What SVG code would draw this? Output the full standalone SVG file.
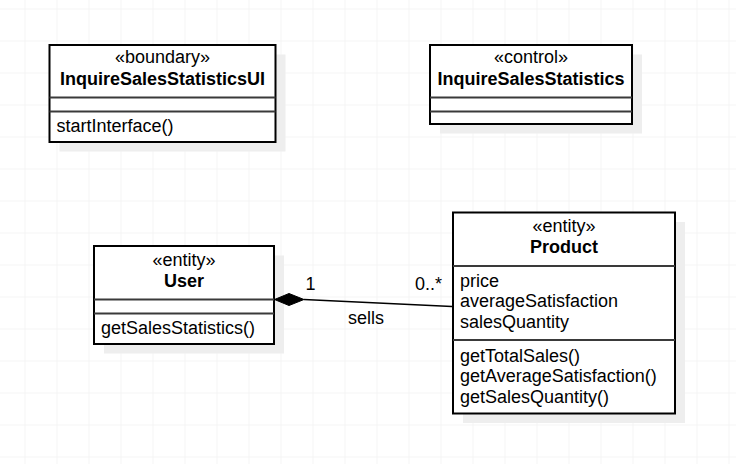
<svg xmlns="http://www.w3.org/2000/svg" width="736" height="464" viewBox="0 0 736 464">
  <defs>
    <pattern id="grid" x="24.5" y="8.5" width="32" height="32" patternUnits="userSpaceOnUse">
      <path d="M0 0 H32 M0 0 V32" fill="none" stroke="#ebebeb" stroke-width="1"/>
    </pattern>
  </defs>
  <style>
    text { font-family: "Liberation Sans", Arial, sans-serif; font-size: 18px; fill: #000; }
    .c { text-anchor: middle; }
    .b { font-weight: bold; }
    .shadow { fill: #eeeeee; stroke: none; }
    .box { fill: #ffffff; stroke: #000; stroke-width: 2; }
    .sep { stroke: #3a3a3a; stroke-width: 2; fill: none; }
    .line { stroke: #000; stroke-width: 1.5; fill: none; }
  </style>
  <rect x="0" y="0" width="736" height="464" fill="#ffffff"/>
  <rect x="0" y="0" width="736" height="464" fill="url(#grid)"/>

  <g id="InquireSalesStatisticsUI">
    <rect class="shadow" x="59.5" y="54.5" width="226" height="97"/>
    <rect class="box" x="49.5" y="45" width="226" height="97"/>
    <line class="sep" x1="49.5" y1="97.5" x2="275.5" y2="97.5"/>
    <line class="sep" x1="49.5" y1="111.5" x2="275.5" y2="111.5"/>
    <text class="c" x="162.5" y="63">«boundary»</text>
    <text class="c b" x="162.5" y="85">InquireSalesStatisticsUI</text>
    <text x="56.5" y="132">startInterface()</text>
  </g>

  <g id="InquireSalesStatistics">
    <rect class="shadow" x="440" y="54.5" width="202" height="79"/>
    <rect class="box" x="430" y="45" width="202" height="79"/>
    <line class="sep" x1="430" y1="97.5" x2="632" y2="97.5"/>
    <line class="sep" x1="430" y1="111.5" x2="632" y2="111.5"/>
    <text class="c" x="531" y="63">«control»</text>
    <text class="c b" x="531" y="85">InquireSalesStatistics</text>
  </g>

  <g id="User">
    <rect class="shadow" x="104" y="255.5" width="180" height="98"/>
    <rect class="box" x="94" y="246" width="180" height="98"/>
    <line class="sep" x1="94" y1="299.5" x2="274" y2="299.5"/>
    <line class="sep" x1="94" y1="313.5" x2="274" y2="313.5"/>
    <text class="c" x="184" y="266">«entity»</text>
    <text class="c b" x="184" y="287">User</text>
    <text x="101" y="334">getSalesStatistics()</text>
  </g>

  <g id="Product">
    <rect class="shadow" x="463" y="222" width="222" height="201"/>
    <rect class="box" x="453" y="212.5" width="222" height="201"/>
    <line class="sep" x1="453" y1="266" x2="675" y2="266"/>
    <line class="sep" x1="453" y1="340" x2="675" y2="340"/>
    <text class="c" x="564" y="232">«entity»</text>
    <text class="c b" x="564" y="253">Product</text>
    <text x="460" y="286.7">price</text>
    <text x="460" y="307.3">averageSatisfaction</text>
    <text x="460" y="328">salesQuantity</text>
    <text x="460" y="361.5">getTotalSales()</text>
    <text x="460" y="382.2">getAverageSatisfaction()</text>
    <text x="460" y="402.9">getSalesQuantity()</text>
  </g>

  <g id="connectors">
    <g id="sells">
      <line class="line" x1="304" y1="299.5" x2="452" y2="306.5"/>
      <polygon points="274.5,299.5 289,293.5 304,299.5 289,305.5" fill="#000" stroke="#000" stroke-width="1"/>
      <text x="305.5" y="290">1</text>
      <text x="415" y="290">0..*</text>
      <text x="348" y="324">sells</text>
    </g>
  </g>
</svg>
